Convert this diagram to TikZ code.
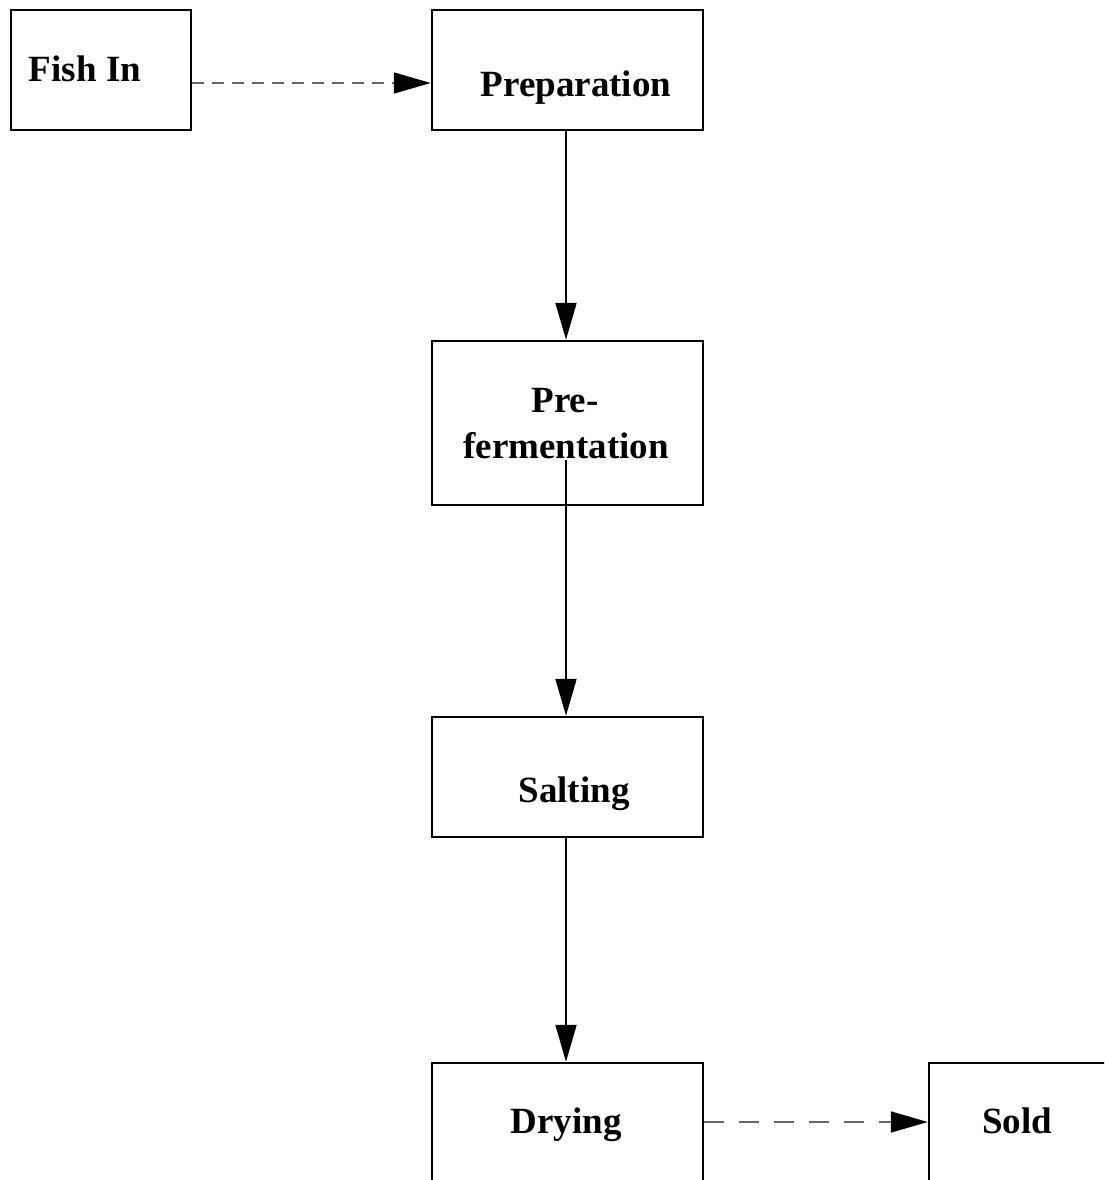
\documentclass[tikz,border=0pt]{standalone}
\usepackage{fontspec}
\setmainfont{Liberation Serif}
\usetikzlibrary{arrows.meta}
\begin{document}
\begin{tikzpicture}[x=1pt,y=-1pt,
  box/.style={draw=black,line width=2.5pt,rectangle,inner sep=0pt,fill=none},
  lbl/.style={anchor=base,inner sep=0pt,font=\fontsize{37}{40}\selectfont\bfseries},
  flow/.style={draw=black,line width=2pt,-{Triangle[length=37pt,width=21pt,black]}},
  dashA/.style={draw=black!60,line width=1.7pt,dash pattern=on 12pt off 8pt,-{Triangle[length=37pt,width=21pt,black]}},
  dashB/.style={draw=black!60,line width=1.7pt,dash pattern=on 20pt off 15pt,-{Triangle[length=37pt,width=21pt,black]}}]
\clip (0,0) rectangle (1104,1180);
\fill[white] (0,0) rectangle (1104,1180);
% boxes
\node[box,minimum width=180pt,minimum height=120pt] (fish) at (101,70) {};
\node[box,minimum width=271pt,minimum height=120pt] (prep) at (567.5,70) {};
\node[box,minimum width=271pt,minimum height=164pt] (pref) at (567.5,423) {};
\node[box,minimum width=271pt,minimum height=120pt] (salt) at (567.5,777) {};
\node[box,minimum width=271pt,minimum height=120pt] (dry) at (567.5,1123) {};
\node[box,minimum width=271pt,minimum height=120pt] (sold) at (1064.5,1123) {};
% labels
\node[lbl] (fishtxt) at (85,82) {Fish In};
\node[lbl] (preptxt) at (576,97) {Preparation};
\node[lbl] (preftxtA) at (565,412) {Pre-};
\node[lbl] (preftxtB) at (566,458) {fermentation};
\node[lbl] (salttxt) at (574,802) {Salting};
\node[lbl] (drytxt) at (566,1133) {Drying};
\node[lbl] (soldtxt) at (1017,1133) {Sold};
% connectors
\draw[dashA] ([yshift=-13pt]fish.east) -- ([yshift=-13pt]prep.west);
\draw[flow] ([xshift=-1.5pt]prep.south) -- ([xshift=-1.5pt]pref.north);
\draw[flow] ([xshift=-1.5pt,yshift=-37pt]pref.center) -- ([xshift=-1.5pt]salt.north);
\draw[flow] ([xshift=-1.5pt]salt.south) -- ([xshift=-1.5pt]dry.north);
\draw[dashB] ([yshift=1pt]dry.east) -- ([yshift=1pt]sold.west);
\end{tikzpicture}
\end{document}
